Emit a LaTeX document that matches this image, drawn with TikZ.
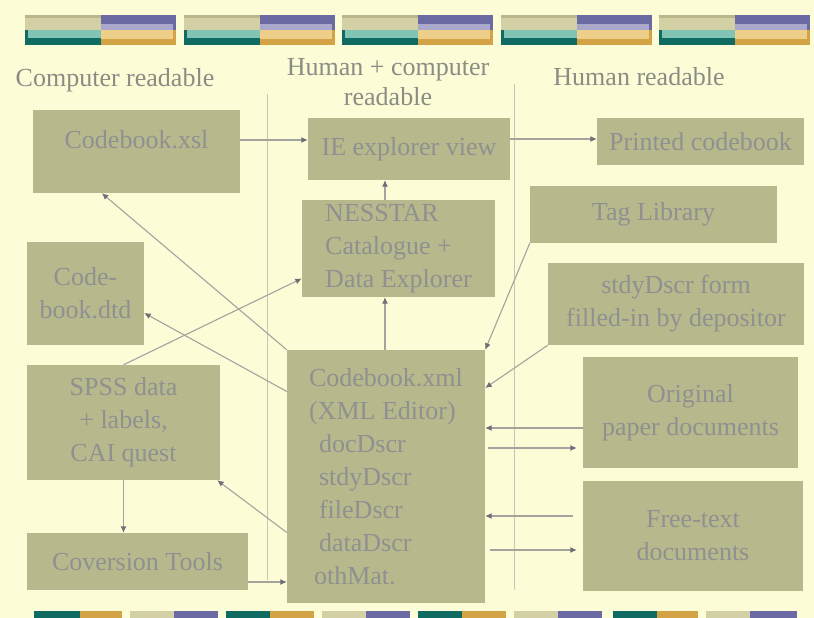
\documentclass[tikz,border=0pt]{standalone}
\usepackage{fontspec}
\setmainfont{Liberation Serif}
\usetikzlibrary{arrows.meta,calc}
\definecolor{bg}{HTML}{FCFCD6}
\definecolor{boxc}{HTML}{B7B98D}
\definecolor{txtc}{HTML}{909090}
\definecolor{hdrc}{HTML}{8C8C86}
\definecolor{linec}{HTML}{A4A49E}
\definecolor{tipc}{HTML}{6E6E78}
\definecolor{sepc}{HTML}{C6C6B8}
\definecolor{khakiA}{HTML}{D3D0A6}
\definecolor{khakiB}{HTML}{B9B68C}
\definecolor{tealA}{HTML}{82C4B4}
\definecolor{tealB}{HTML}{106B62}
\definecolor{purA}{HTML}{6C6AA2}
\definecolor{purB}{HTML}{AAA9CC}
\definecolor{goldA}{HTML}{EDCF89}
\definecolor{goldB}{HTML}{D4A345}
\begin{document}
\begin{tikzpicture}[x=1pt,y=-1pt,
  box/.style={draw=none,fill=boxc,inner sep=0pt,text=txtc,
    font=\fontsize{26}{33}\selectfont,align=center},
  boxtext/.style={inner sep=0pt,text=txtc,font=\fontsize{26}{33}\selectfont,align=center},
  hdr/.style={inner sep=0pt,text=hdrc,font=\fontsize{26}{30}\selectfont,align=center},
  conn/.style={draw=linec,line width=1.1pt,-{Latex[length=6.5pt,width=6pt,color=tipc]}},
  sepline/.style={draw=sepc,line width=0.9pt}]
\useasboundingbox (0,0) rectangle (814,618);
\fill[bg] (0,0) rectangle (814,618);

% top decorative bars
\foreach \i in {0,...,4}{
  \pgfmathsetmacro{\xo}{25+158.5*\i}
  \fill[khakiA] (\xo,15) rectangle (\xo+76,30);
  \fill[khakiB] (\xo,15) rectangle (\xo+76,18);
  \fill[tealA] (\xo,30) rectangle (\xo+76,38);
  \fill[tealB] (\xo,38) rectangle (\xo+76,45);
  \fill[tealB] (\xo,30) rectangle (\xo+3,45);
  \fill[purA] (\xo+76,15) rectangle (\xo+151,24);
  \fill[purB] (\xo+76,24) rectangle (\xo+151,30);
  \fill[purA] (\xo+148,15) rectangle (\xo+151,30);
  \fill[goldA] (\xo+76,30) rectangle (\xo+151,39);
  \fill[goldB] (\xo+76,39) rectangle (\xo+151,45);
  \fill[goldB] (\xo+148,30) rectangle (\xo+151,45);
}
% bottom decorative strip
\foreach \a/\b/\c/\ca/\cb in {34/80/122/tealB/goldB,130/174/218/khakiA/purA,226/270/314/tealB/goldB,322/366/410/khakiA/purA,418/462/506/tealB/goldB,514/558/602/khakiA/purA,613/657/698/tealB/goldB,706/750/797/khakiA/purA}{
  \fill[\ca] (\a,611) rectangle (\b,618);
  \fill[\cb] (\b,611) rectangle (\c,618);
}

% column separators
\coordinate (s1a) at (267,94);
\coordinate (s1b) at (267,580);
\coordinate (s2a) at (514,84);
\coordinate (s2b) at (514,590);
\draw[sepline] (s1a) -- (s1b);
\draw[sepline] (s2a) -- (s2b);

% headers
\node[hdr] (h1) at (115,80) {Computer readable};
\node[hdr] (h2) at (388,82) {Human + computer\\readable};
\node[hdr] (h3) at (639,77) {Human readable};

% boxes
\node[box,minimum width=207,minimum height=83] (xsl) at (136.5,151.5) {};
\node[boxtext] (xsllbl) at ($(xsl.north)+(0,30)$) {Codebook.xsl};
\node[box,minimum width=202,minimum height=62] (ie) at (409,149) {IE explorer view};
\node[box,minimum width=207,minimum height=47] (printed) at (700.5,141.5) {Printed codebook};
\node[box,minimum width=193,minimum height=97,align=left] (nes) at (398.5,248.5) {NESSTAR\\Catalogue +\\Data Explorer};
\node[box,minimum width=247,minimum height=57] (tag) at (653.5,214.5) {Tag Library};
\node[box,minimum width=256,minimum height=82] (form) at (676,304) {stdyDscr form\\filled-in by depositor};
\node[box,minimum width=117,minimum height=103] (dtd) at (85.5,293.5) {Code-\\book.dtd};
\node[box,minimum width=193,minimum height=115] (spss) at (123.5,422.5) {SPSS data\\+ labels,\\CAI quest};
\node[box,minimum width=221,minimum height=57] (conv) at (137.5,561.5) {Coversion Tools};
\node[box,minimum width=198,minimum height=253,align=left] (xml) at (386,476.5)
  {Codebook.xml\\(XML Editor)\\\hspace*{10pt}docDscr\\\hspace*{10pt}stdyDscr\\\hspace*{10pt}fileDscr\\\hspace*{10pt}dataDscr\\\hspace*{5pt}othMat.};
\node[box,minimum width=215,minimum height=111] (orig) at (690.5,412.5) {Original\\paper documents};
\node[box,minimum width=220,minimum height=110] (free) at (693,535.5) {Free-text\\documents};

% connectors
\draw[conn] ($(xsl.east)+(0,-11.5)$) -- ($(ie.west)+(0,-9)$);
\draw[conn] ($(ie.east)+(0,-10)$) -- ($(printed.west)+(0,-2.5)$);
\draw[conn] ($(nes.north)+(-13.5,0)$) -- ($(ie.south)+(-24,0)$);
\draw[conn] ($(xml.north)+(-1,0)$) -- ($(nes.south)+(-13.5,0)$);
\draw[conn] (xml.north west) -- ($(xsl.south west)+(69,0)$);
\draw[conn] ($(xml.west)+(0,-85)$) -- ($(dtd.east)+(0,19.5)$);
\draw[conn] (spss.north) -- ($(nes.west)+(0,30)$);
\draw[conn] ($(xml.west)+(0,56)$) -- ($(spss.south east)+(-3,0)$);
\draw[conn] (spss.south) -- (spss.south |- conv.north);
\draw[conn] ($(conv.east)+(0,20.5)$) -- ($(xml.west)+(0,105.5)$);
\draw[conn] (tag.south west) -- (xml.north east);
\draw[conn] (form.south west) -- ($(xml.east)+(0,-88.5)$);
\draw[conn] ($(orig.west)+(0,15.5)$) -- ($(xml.east)+(0,-48.5)$);
\draw[conn,shorten >=6pt,shorten <=3pt] ($(xml.east)+(0,-28.5)$) -- ($(orig.west)+(0,35.5)$);
\draw[conn,shorten <=10pt] ($(free.west)+(0,-19.5)$) -- ($(xml.east)+(0,39.5)$);
\draw[conn,shorten >=6pt,shorten <=5pt] ($(xml.east)+(0,73.5)$) -- ($(free.west)+(0,14.5)$);
\end{tikzpicture}
\end{document}
